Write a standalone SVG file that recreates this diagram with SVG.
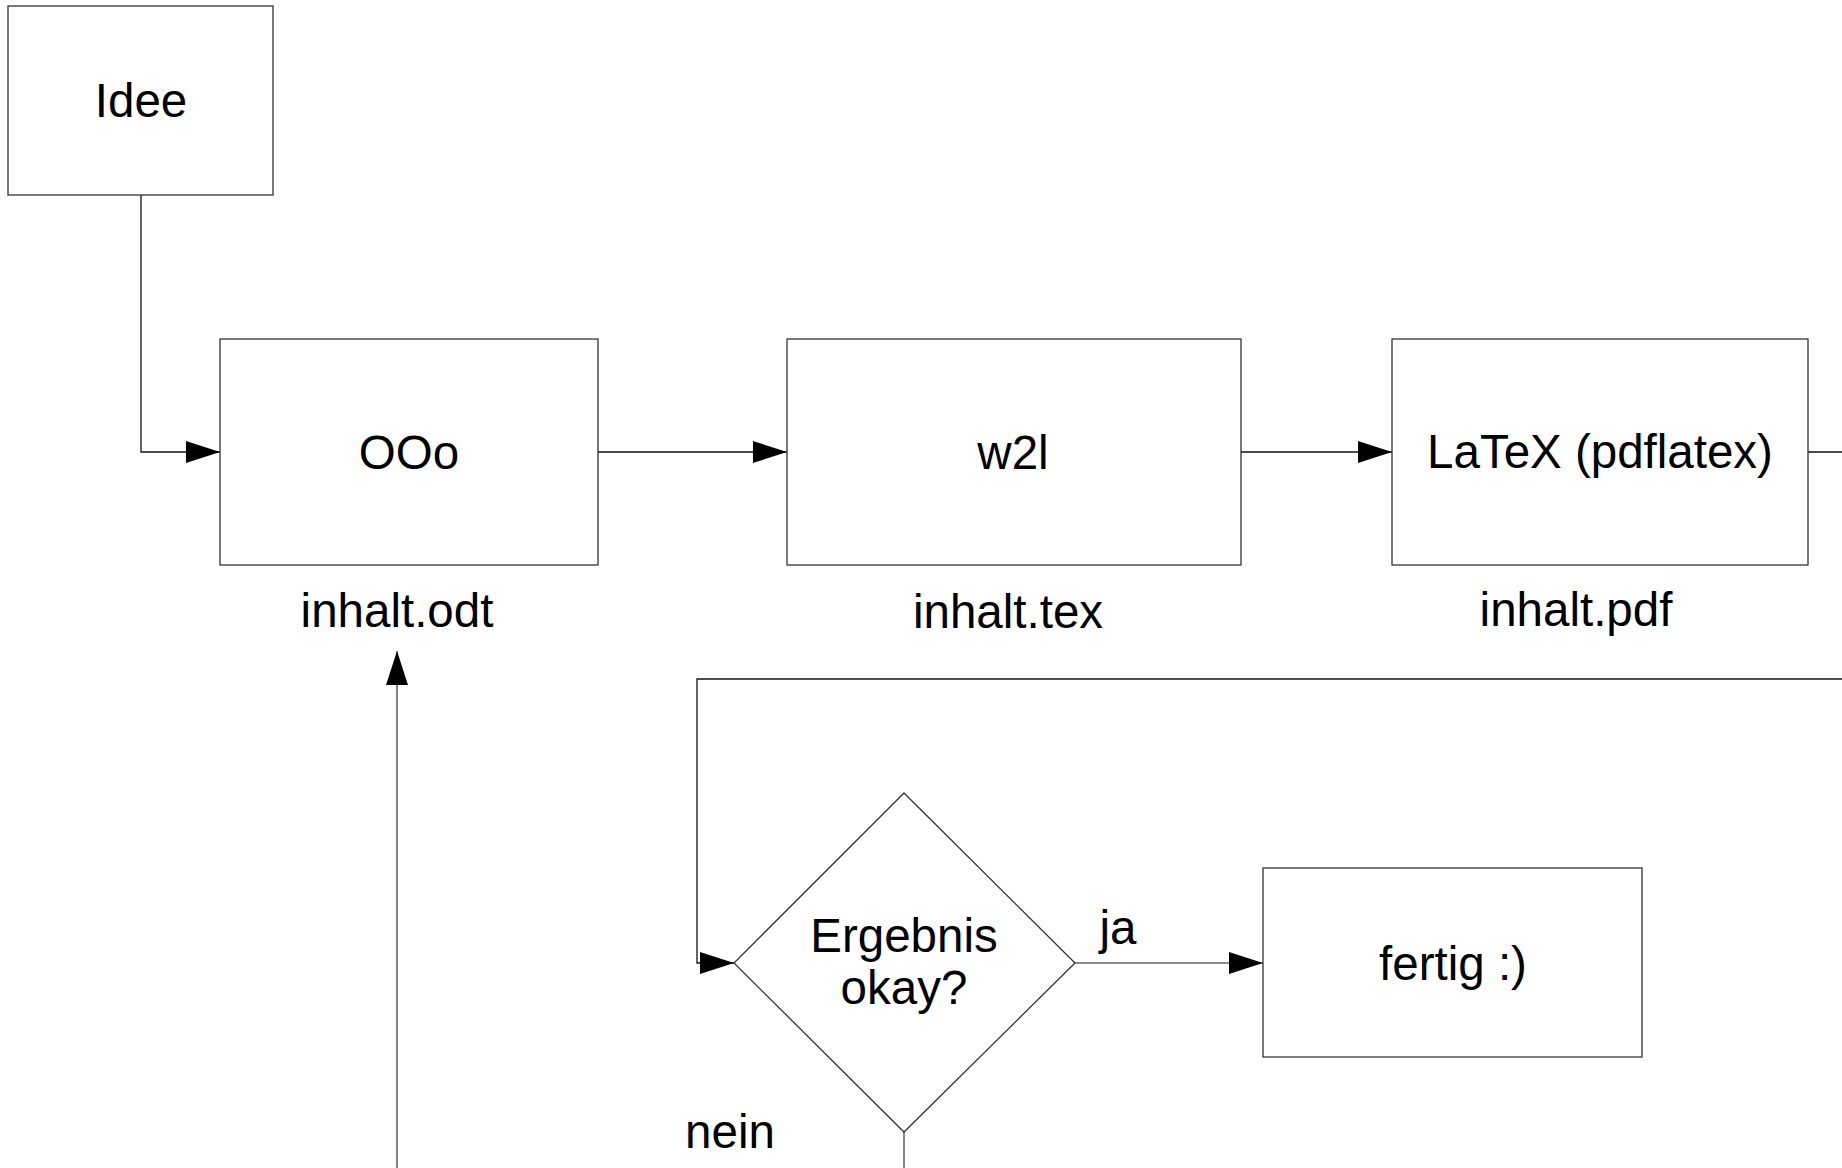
<svg xmlns="http://www.w3.org/2000/svg" width="1842" height="1168" viewBox="0 0 1842 1168">
<style>
.box{fill:#fff;stroke:#333;stroke-width:1.3}
.t{font-family:"Liberation Sans",Arial,sans-serif;font-size:47.5px;fill:#000;text-anchor:middle}
.c{fill:none;stroke:#111;stroke-width:1.3}
.g{fill:none;stroke:#666;stroke-width:1.6}
</style>
<defs>
<marker id="arr" markerUnits="userSpaceOnUse" markerWidth="34" markerHeight="22" refX="34" refY="11" orient="auto">
<path d="M0,0 L34,11 L0,22 z" fill="#000"/>
</marker>
</defs>
<rect width="1842" height="1168" fill="#fff"/>
<g id="connectors">
<path class="c" d="M141,195 V452 H220" marker-end="url(#arr)"/>
<path class="c" d="M598,452 H787" marker-end="url(#arr)"/>
<path class="c" d="M1241,452 H1392" marker-end="url(#arr)"/>
<path class="c" d="M1808,452 H1900 V679 H697 V963 H734" marker-end="url(#arr)"/>
<path class="g" d="M1075,963 H1263" marker-end="url(#arr)"/>
<path class="g" d="M904,1132 V1260 H397 V651" marker-end="url(#arr)"/>
</g>
<g id="idee">
<rect class="box" x="8" y="6" width="265" height="189"/>
<text class="t" x="141" y="117">Idee</text>
</g>
<g id="ooo">
<rect class="box" x="220" y="339" width="378" height="226"/>
<text class="t" x="409" y="469">OOo</text>
<text class="t" x="397" y="627">inhalt.odt</text>
</g>
<g id="w2l">
<rect class="box" x="787" y="339" width="454" height="226"/>
<text class="t" x="1013" y="469">w2l</text>
<text class="t" x="1008" y="628">inhalt.tex</text>
</g>
<g id="latex">
<rect class="box" x="1392" y="339" width="416" height="226"/>
<text class="t" x="1600" y="468">LaTeX (pdflatex)</text>
<text class="t" x="1576" y="626">inhalt.pdf</text>
</g>
<g id="decision">
<polygon class="box" points="904,793 1075,963 904,1132 734,963"/>
<text class="t" x="904" y="952">Ergebnis</text>
<text class="t" x="904" y="1004">okay?</text>
<text class="t" x="1118" y="944">ja</text>
<text class="t" x="730" y="1148">nein</text>
</g>
<g id="fertig">
<rect class="box" x="1263" y="868" width="379" height="189"/>
<text class="t" x="1453" y="980">fertig :)</text>
</g>
</svg>
